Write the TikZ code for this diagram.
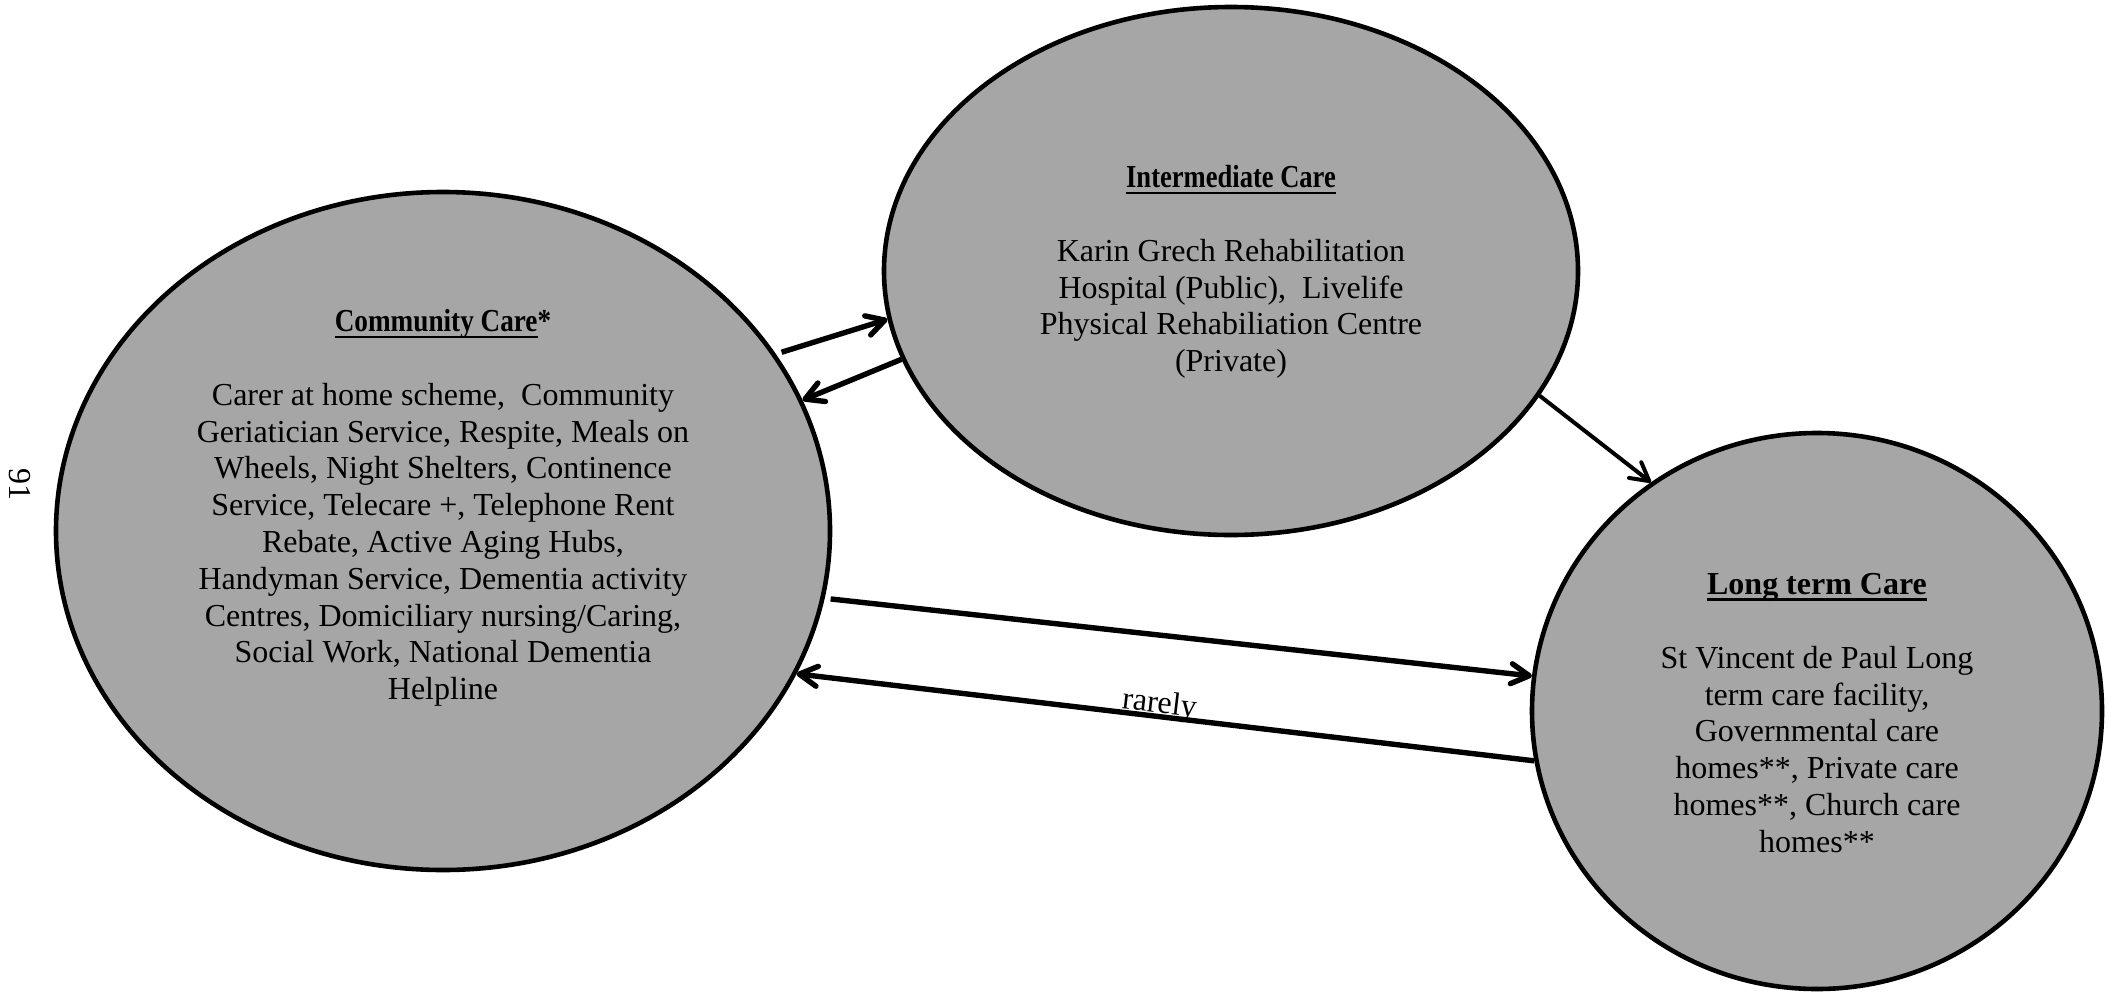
\documentclass[tikz,border=0pt]{standalone}
\usepackage{fontspec}
\setmainfont{Liberation Serif}
\usetikzlibrary{shapes.geometric,arrows.meta}
\definecolor{cfill}{RGB}{166,166,166}
\newsavebox\ulbox
\newcommand\thickul[1]{\sbox\ulbox{#1}\rlap{\rule[-3.1pt]{\wd\ulbox}{1.2pt}}\usebox\ulbox}
\begin{document}
\begin{tikzpicture}[x=0.5pt,y=-0.5pt,
  blob/.style={ellipse, draw=black, line width=2.3pt, fill=cfill, inner sep=0pt},
  txt/.style={align=center, font=\fontsize{16}{18.4}\selectfont, inner sep=0pt},
  link/.style={line width=2.7pt, -{Straight Barb[length=9pt,width=10pt,round]}},
  thinlink/.style={line width=2pt, -{Straight Barb[length=9pt,width=10pt,round]}},
]
\useasboundingbox (0,0) rectangle (2109,991);

% ellipses
\node[blob, minimum width=387pt, minimum height=339pt] (cc) at (443,531) {};
\node[blob, minimum width=347pt, minimum height=264pt] (ic) at (1231,271) {};
\node[blob, minimum width=285pt, minimum height=278pt] (lt) at (1817,711) {};

% texts
\node[txt] (cct) at (443,508) {\scalebox{0.85}[1]{\textbf{\thickul{Community Care}*}}\\[18.4pt]
Carer at home scheme,\ \ Community\\
Geriatician Service, Respite, Meals on\\
Wheels, Night Shelters, Continence\\
Service, Telecare +, Telephone Rent\\
Rebate, Active Aging Hubs,\\
Handyman Service, Dementia activity\\
Centres, Domiciliary nursing/Caring,\\
Social Work, National Dementia\\
Helpline};

\node[txt] (ict) at (1231,272) {\scalebox{0.83}[1]{\textbf{\thickul{Intermediate Care}}}\\[18.4pt]
Karin Grech Rehabilitation\\
Hospital (Public),\ \ Livelife\\
Physical Rehabiliation Centre\\
(Private)};

\node[txt] (ltt) at (1817,713) {\textbf{\thickul{Long term Care}}\\[18.4pt]
St Vincent de Paul Long\\
term care facility,\\
Governmental care\\
homes**, Private care\\
homes**, Church care\\
homes**};

% page number
\node[txt, rotate=-90] (pg) at (20,484) {91};

% connectors
\draw[link, shorten <=3pt] (cc.28.2) -- (ic.188.5);
\draw[link] (ic.195.1) -- (cc.20.6);
\draw[thinlink] (ic.-22.3) -- (lt.126.7);
\draw[link, shorten <=3pt] (cc.-10.25) -- (lt.173.5);
\draw[link] (lt.190.8) -- node[pos=0.51, sloped, above=-3pt, inner sep=0pt, font=\fontsize{16}{18.4}\selectfont] (rl) {rarely} (cc.-22.6);
\end{tikzpicture}
\end{document}
